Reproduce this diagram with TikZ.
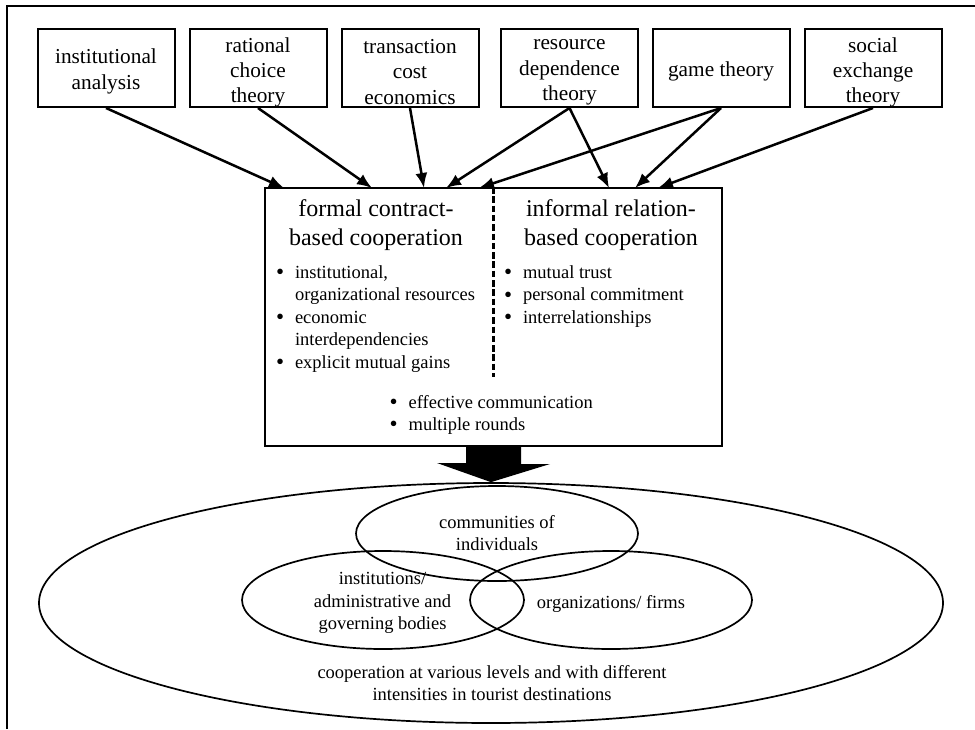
\documentclass[tikz,border=0pt]{standalone}
\usepackage{fontspec}
\setmainfont{Liberation Serif}
\usetikzlibrary{arrows.meta,shapes.geometric}
\newcommand\bul{\makebox[19pt][l]{\raisebox{-1.2pt}{\fontsize{23}{23}\selectfont\textbullet}}}
\newcommand\bind{\hspace*{19pt}}
\begin{document}
\begin{tikzpicture}[x=1pt,y=-1pt,
  topbox/.style={draw,line width=2pt,minimum width=137pt,minimum height=78pt,inner sep=0pt},
  toptext/.style={align=center,inner sep=0pt,font=\fontsize{21.3}{25.3}\selectfont},
  mainbox/.style={draw,line width=2pt,minimum width=457pt,minimum height=258pt,inner sep=0pt},
  headtext/.style={align=center,inner sep=0pt,anchor=base,font=\fontsize{24}{29.5}\selectfont},
  blist/.style={align=left,inner sep=0pt,anchor=base west,font=\fontsize{18.5}{22.5}\selectfont},
  ell/.style={draw,ellipse,line width=1.7pt,inner sep=0pt},
  etext/.style={align=center,inner sep=0pt,anchor=base,font=\fontsize{18.5}{22.5}\selectfont},
  conn/.style={line width=2.5pt,-{Latex[length=15pt,width=12pt]}},
  divider/.style={line width=2.6pt,dash pattern=on 6.5pt off 2.8pt},
  frameline/.style={line width=2.5pt}
]
\useasboundingbox (0,0) rectangle (975,729);
% frame
\coordinate (fbl) at (7,729);
\coordinate (ftl) at (7,6);
\coordinate (ftr) at (975,6);
\draw[frameline] (fbl) -- (ftl) -- (ftr);

% top boxes
\node[topbox] (b1) at (106,68) {};
\node[topbox] (b2) at (258,68) {};
\node[topbox] (b3) at (410,68) {};
\node[topbox] (b4) at (569.5,68) {};
\node[topbox] (b5) at (721,68) {};
\node[topbox] (b6) at (873,68) {};
\node[toptext] (b1t) at (106,71.5) {institutional\\analysis};
\node[toptext] (b2t) at (258,72.5) {rational\\choice\\theory};
\node[toptext] (b3t) at (410,72) {transaction\\cost\\economics};
\node[toptext] (b4t) at (569.5,72.5) {resource\\dependence\\theory};
\node[toptext] (b5t) at (721,71.5) {game theory};
\node[toptext] (b6t) at (873,72.5) {social\\exchange\\theory};

% main box
\node[mainbox] (main) at (493.5,317) {};
\coordinate (dbot) at (493.5,377);
\draw[divider] (main.north) -- (dbot);
% (anchor base = baseline of the last line)
\node[headtext] (hl) at (376,245.7) {formal contract-\\based cooperation};
\node[headtext] (hr) at (611,245.7) {informal relation-\\based cooperation};
\node[blist] (ll) at (275.8,368.3) {\bul institutional,\\\bind organizational resources\\\bul economic\\\bind interdependencies\\\bul explicit mutual gains};
\node[blist] (rl) at (503.8,323.3) {\bul mutual trust\\\bul personal commitment\\\bul interrelationships};
\node[blist] (bl) at (389.5,430.5) {\bul effective communication\\\bul multiple rounds};

% connector targets
\coordinate (m1) at (284,188);
\coordinate (m2) at (372,188);
\coordinate (m3) at (424,188);
\coordinate (m4) at (446,188);
\coordinate (m5) at (479,188);
\coordinate (m6) at (609,188);
\coordinate (m7) at (635,188);
\coordinate (m8) at (658,188);
\draw[conn] (b1.south) -- (m1);
\draw[conn] (b2.south) -- (m2);
\draw[conn] (b3.south) -- (m3);
\draw[conn] (b4.south) -- (m4);
\draw[conn] (b5.south) -- (m5);
\draw[conn] (b4.south) -- (m6);
\draw[conn] (b5.south) -- (m7);
\draw[conn] (b6.south) -- (m8);

% ellipses
\node[ell,minimum width=904pt,minimum height=240pt] (big) at (491,603) {};
\node[ell,minimum width=282pt,minimum height=95pt] (ec) at (497,533.5) {};
\node[ell,minimum width=282pt,minimum height=98pt] (el) at (383,600) {};
\node[ell,minimum width=282pt,minimum height=98pt] (er) at (611,600) {};
\node[etext] (tc) at (497,550.5) {communities of\\individuals};
\node[etext] (tl) at (382.5,629.5) {institutions/\\administrative and\\governing bodies};
\node[etext] (tr) at (611,608) {organizations/ firms};
\node[etext] (tb) at (492,700.5) {cooperation at various levels and with different\\intensities in tourist destinations};

% big arrow
\fill (main.south) ++(-27.5,0) -- ++(55,0) -- ++(0,17) -- ++(29,0) -- (big.north) -- (437,463) -- (466,463) -- cycle;
\end{tikzpicture}
\end{document}
